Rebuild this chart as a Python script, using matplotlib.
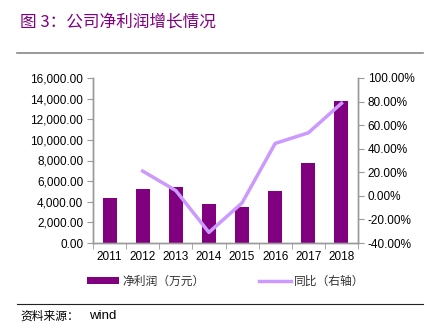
import numpy as np
import matplotlib
matplotlib.use("Agg")
import matplotlib.pyplot as plt
from matplotlib.ticker import FuncFormatter, FixedLocator

plt.rcParams['font.family'] = ['Liberation Sans', 'Noto Sans CJK SC', 'DejaVu Sans']

# data
years = ['2011', '2012', '2013', '2014', '2015', '2016', '2017', '2018']
profit = [4330, 5200, 5430, 3750, 3520, 5040, 7730, 13770]          # 万元
growth = [np.nan, 21.0, 4.5, -31.0, -6.0, 44.5, 53.5, 78.5]        # %

left_ticks = [0, 2000, 4000, 6000, 8000, 10000, 12000, 14000, 16000]
right_ticks = [-40, -20, 0, 20, 40, 60, 80, 100]

bar_color = '#800080'
line_color = '#CC99FF'
axis_color = '#999999'
W, H = 430, 332

fig = plt.figure(figsize=(W / 100, H / 100), dpi=100)
ax = fig.add_axes([93 / W, (H - 243) / H, (358 - 93) / W, 165 / H])
ax2 = ax.twinx()

x = np.arange(len(years))
bars = ax.bar(x, profit, width=0.42, color=bar_color, zorder=2)
line, = ax2.plot(x, growth, color=line_color, linewidth=2.5, zorder=3)

ax.set_xlim(-0.5, len(years) - 0.5)
ax.set_ylim(0, 16000)
ax2.set_ylim(-40, 100)

ax.yaxis.set_major_locator(FixedLocator(left_ticks))
ax2.yaxis.set_major_locator(FixedLocator(right_ticks))
ax.yaxis.set_major_formatter(FuncFormatter(lambda v, p: f'{v:,.2f}'))
ax2.yaxis.set_major_formatter(FuncFormatter(lambda v, p: f'{v:.2f}%'))

ax.set_xticks(x)
ax.set_xticklabels(years)
ax.set_xticks(np.arange(-0.5, len(years)), minor=True)
ax.tick_params(axis='x', which='major', length=0, pad=6, labelsize=8.5)
ax.tick_params(axis='x', which='minor', length=4, color=axis_color, direction='out')
ax.tick_params(axis='y', length=4, color=axis_color, labelsize=8.5, pad=3)
ax2.tick_params(axis='y', length=4, color=axis_color, labelsize=8.5, pad=3)

for a in (ax, ax2):
    a.spines['top'].set_visible(False)
    for s in ('left', 'right', 'bottom'):
        a.spines[s].set_color(axis_color)
        a.spines[s].set_linewidth(1.0)

leg = fig.legend([bars, line], ['净利润（万元）', '同比（右轴）'],
                 loc='center', bbox_to_anchor=(226 / W, 1 - 281 / H), ncol=2,
                 frameon=False, fontsize=8.5, handlelength=2.7, handleheight=0.6,
                 columnspacing=4.6, handletextpad=0.3)
for t in leg.get_texts():
    t.set_family(['Noto Sans CJK SC', 'DejaVu Sans'])
    t.set_color('#333333')

# title, separators and source note
fig.text(20 / W, 1 - 23 / H, '图 3：公司净利润增长情况', color=bar_color,
         fontsize=12, fontweight='normal', va='center', ha='left',
         family=['Noto Sans CJK SC', 'DejaVu Sans'])
fig.add_artist(plt.Line2D([17 / W, 423 / W], [1 - 53 / H] * 2,
                          color='#888888', linewidth=1.2))
fig.add_artist(plt.Line2D([17 / W, 423 / W], [1 - 304 / H] * 2,
                          color='#222222', linewidth=0.8))
fig.text(20 / W, 1 - 316 / H, '资料来源：', fontsize=8.5, va='center', ha='left',
         family=['Noto Sans CJK SC', 'DejaVu Sans'])
fig.text(89 / W, 1 - 316 / H, 'wind', fontsize=9.5, va='center', ha='left')

fig.savefig('out.png', dpi=100)
